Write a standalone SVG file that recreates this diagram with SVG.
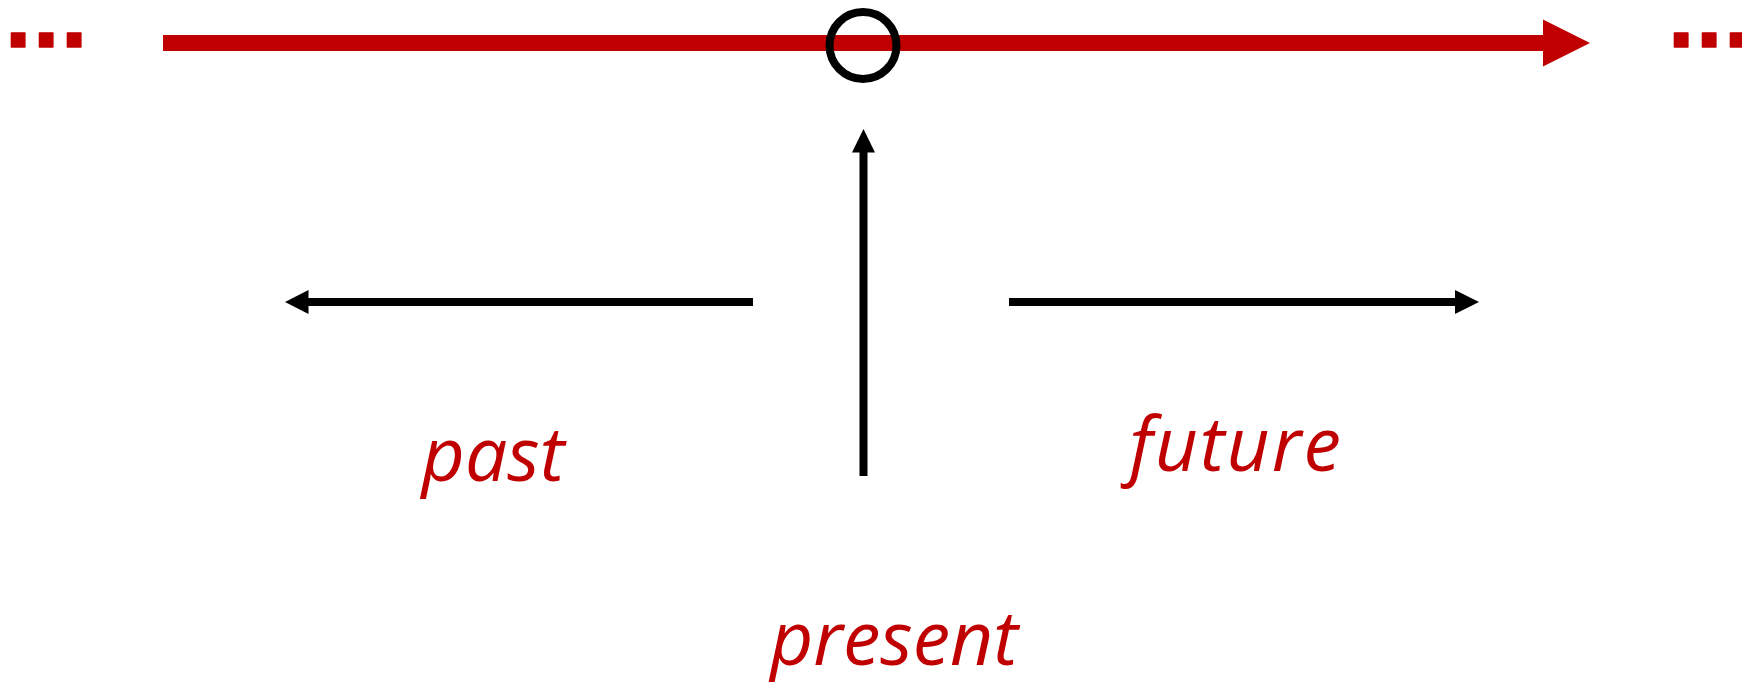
<svg xmlns="http://www.w3.org/2000/svg" width="1742" height="682" viewBox="0 0 1742 682">
<style>
.lbl{font-family:"Open Sans","Noto Sans",sans-serif;font-style:italic;font-size:75px;fill:#C00000}
.dots{font-family:"Liberation Sans",Arial,sans-serif;font-weight:bold;font-size:95px;letter-spacing:1.6px;fill:#C00000;stroke:#C00000;stroke-width:1.5;stroke-linejoin:round}
.blk{stroke:#000;stroke-width:8;fill:none}
</style>
<rect width="1742" height="682" fill="#fff"/>
<g id="timeline">
<line x1="163" y1="43" x2="1545" y2="43" stroke="#C00000" stroke-width="16"/>
<polygon points="1543,19.5 1590,43 1543,66.5" fill="#C00000"/>
</g>
<g id="dots-left"><text class="dots" x="5" y="47">...</text></g>
<g id="dots-right"><text class="dots" x="1668" y="47">...</text></g>
<g id="now-marker"><circle cx="863" cy="45.5" r="33.5" stroke="#000" stroke-width="8" fill="none"/></g>
<g id="connectors">
<line class="blk" x1="863.5" y1="476" x2="863.5" y2="150"/>
<polygon points="863.5,129 875,152.5 852,152.5" fill="#000"/>
<line class="blk" x1="753" y1="302" x2="306" y2="302"/>
<polygon points="285,302 308.5,290 308.5,314" fill="#000"/>
<line class="blk" x1="1009" y1="302" x2="1457" y2="302"/>
<polygon points="1479,302 1455,290 1455,314" fill="#000"/>
</g>
<g id="past"><text class="lbl" x="493" y="481" text-anchor="middle">past</text></g>
<g id="future"><text class="lbl" x="1236" y="471" text-anchor="middle" letter-spacing="2">future</text></g>
<g id="present"><text class="lbl" x="894" y="665" text-anchor="middle">present</text></g>
</svg>
